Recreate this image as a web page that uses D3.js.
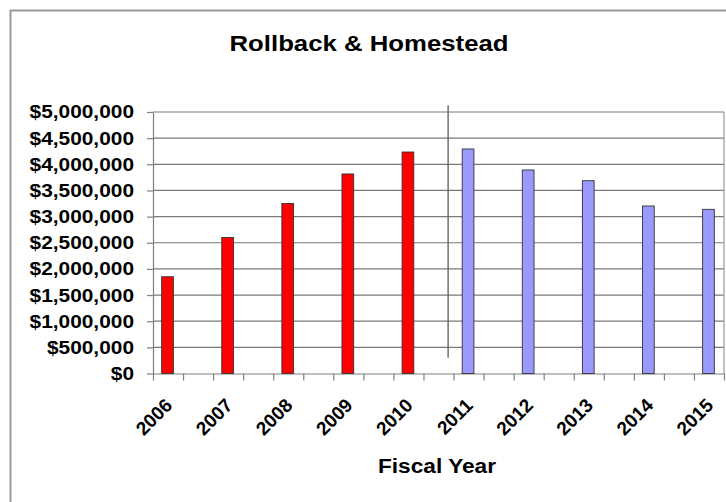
<!DOCTYPE html>
<html>
<head>
<meta charset="utf-8">
<script src="https://cdn.jsdelivr.net/npm/d3@7"></script>
<style>
  html, body { margin: 0; padding: 0; background: #fff; }
  svg { display: block; font-family: "Liberation Sans", Arial, sans-serif; }
</style>
</head>
<body>
<svg id="chart" width="726" height="502"></svg>
<script>
// Fiscal years and the rollback & homestead amount for each
const years = ["2006", "2007", "2008", "2009", "2010", "2011", "2012", "2013", "2014", "2015"];
const amounts = [1850000, 2600000, 3250000, 3815000, 4235000, 4293000, 3891000, 3687000, 3203000, 3139000];
// First five years are actuals, the rest are projections
const kinds = ["actual", "actual", "actual", "actual", "actual",
               "projected", "projected", "projected", "projected", "projected"];
const yTicks = [0, 500000, 1000000, 1500000, 2000000, 2500000, 3000000, 3500000, 4000000, 4500000, 5000000];

// Divider between actual and projected years (slot position and value span)
const dividerSlot = 9.82;
const dividerSpan = [300000, 5130000];

const fill = { actual: "#ff0000", projected: "#9999ff" };

const svg = d3.select("#chart");
const plotLeft = 153, plotRight = 724, plotTop = 112, plotBottom = 373.5;

// Every year gets a slot, with an empty slot between consecutive years
const slots = years.flatMap((yr, i) => i < years.length - 1 ? [yr, "gap" + i] : [yr]);
const x = d3.scaleBand().domain(slots).range([plotLeft, plotRight]).padding(0);
const xSlot = d3.scaleLinear().domain([0, slots.length]).range([plotLeft, plotRight]);
const y = d3.scaleLinear().domain([0, 5000000]).range([plotBottom, plotTop]);

// Outer frame
svg.append("rect")
  .attr("x", 10.5).attr("y", 10.5).attr("width", 800).attr("height", 600)
  .attr("fill", "none").attr("stroke", "#999").attr("stroke-width", 2);

// Title
svg.append("text")
  .attr("transform", "translate(369,51) scale(1.12,1)")
  .attr("text-anchor", "middle")
  .attr("font-size", 23).attr("font-weight", "bold").attr("fill", "#000")
  .text("Rollback & Homestead");

// Horizontal gridlines
svg.append("g").selectAll("line").data(yTicks.slice(1)).join("line")
  .attr("x1", plotLeft).attr("x2", plotRight)
  .attr("y1", d => y(d)).attr("y2", d => y(d))
  .attr("stroke", "#7a7a7a").attr("stroke-width", 1.2);

// Right edge of the plot area
svg.append("line")
  .attr("x1", plotRight).attr("x2", plotRight).attr("y1", y(5000000)).attr("y2", y(0))
  .attr("stroke", "#9a9a9a").attr("stroke-width", 1.2);

// Y axis
const yAxis = svg.append("g").attr("transform", `translate(${plotLeft},0)`)
  .call(d3.axisLeft(y).tickValues(yTicks).tickSize(6).tickSizeOuter(0).tickFormat(""));
yAxis.selectAll("path, line").attr("stroke", "#808080").attr("stroke-width", 1.2);

const fmt = d3.format("$,.0f");
svg.append("g").selectAll("text").data(yTicks).join("text")
  .attr("transform", d => `translate(134,${y(d)}) scale(1.16,1)`)
  .attr("dy", "0.36em")
  .attr("text-anchor", "end")
  .attr("font-size", 18).attr("font-weight", "bold").attr("fill", "#000")
  .text(d => fmt(d));

// X axis with a tick at every slot boundary
const xAxis = svg.append("g").attr("transform", `translate(0,${plotBottom})`)
  .call(d3.axisBottom(xSlot).tickValues(d3.range(slots.length + 1)).tickSize(7).tickSizeOuter(0).tickFormat(""));
xAxis.selectAll("path, line").attr("stroke", "#808080").attr("stroke-width", 1.2);

// Bars
const barW = x.bandwidth() * 0.39;
svg.append("g").selectAll("rect").data(years).join("rect")
  .attr("x", (d) => x(d) + (x.bandwidth() - barW) / 2 - 0.5)
  .attr("y", (d, i) => y(amounts[i]))
  .attr("width", barW)
  .attr("height", (d, i) => y(0) - y(amounts[i]))
  .attr("fill", (d, i) => fill[kinds[i]])
  .attr("stroke", "#333").attr("stroke-width", 0.9);

// Divider line between actual and projected years
svg.append("line")
  .attr("x1", xSlot(dividerSlot)).attr("x2", xSlot(dividerSlot))
  .attr("y1", y(dividerSpan[1])).attr("y2", y(dividerSpan[0]))
  .attr("stroke", "#666").attr("stroke-width", 1.4);

// Rotated year labels
svg.append("g").selectAll("text").data(years).join("text")
  .attr("transform", d => `translate(${x(d) + x.bandwidth() / 2 + 5.5},${plotBottom + 33}) rotate(-45)`)
  .attr("text-anchor", "end")
  .attr("font-size", 19).attr("font-weight", "bold").attr("fill", "#000")
  .text(d => d);

// X axis title
svg.append("text")
  .attr("transform", "translate(437,473) scale(1.08,1)")
  .attr("text-anchor", "middle")
  .attr("font-size", 21).attr("font-weight", "bold").attr("fill", "#000")
  .text("Fiscal Year");
</script>
</body>
</html>
